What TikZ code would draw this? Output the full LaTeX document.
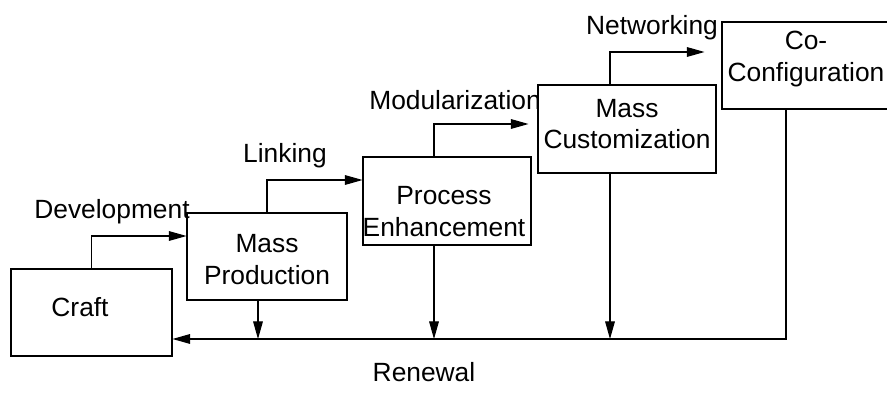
\documentclass[tikz,border=0pt]{standalone}
\usepackage{fontspec}
\setmainfont{Liberation Sans}
\usetikzlibrary{arrows.meta,positioning}
\tikzset{
  stage/.style={draw, line width=0.6pt, inner sep=0pt},
  flow/.style={line width=0.6pt, -{Triangle[length=10pt,width=5.5pt]}},
  lbl/.style={font=\fontsize{15}{18}\selectfont, align=center, inner sep=0pt}
}

\begin{document}
\begin{tikzpicture}[x=0.02cm, y=-0.02cm]
      \useasboundingbox (0, 0) rectangle (887, 405);

      % stages
      \node[stage, minimum width=3.22cm, minimum height=1.74cm,
        label={[lbl, xshift=-0.23cm, yshift=0.11cm]center:Craft}] (craft) at (91.5, 312.5) {};
      \node[stage, minimum width=3.2cm, minimum height=1.74cm,
        label={[lbl, yshift=-0.06cm]center:{Mass\\Production}}] (mprod) at (267, 256.5) {};
      \node[stage, minimum width=3.36cm, minimum height=1.76cm,
        label={[lbl, xshift=-0.06cm, yshift=-0.21cm]center:{Process\\Enhancement}}] (proc) at (447, 201) {};
      \node[stage, minimum width=3.56cm, minimum height=1.76cm,
        label={[lbl, yshift=0.1cm]center:{Mass\\Customization}}] (mcust) at (627, 129) {};
      % right edge runs off the page
      \node[stage, minimum width=3.36cm, minimum height=1.74cm,
        label={[lbl, yshift=0.13cm]center:{Co-\\Configuration}}] (coconf) at (806, 65.5) {};

      % forward steps
      \draw[flow] (craft.north) |- ([yshift=0.41cm]mprod.west);
      \draw[flow] (mprod.north) |- ([yshift=0.42cm]proc.west);
      \draw[flow] ([xshift=-0.26cm]proc.north) |- ([xshift=-0.18cm, yshift=0.1cm]mcust.west);
      \draw[flow] ([xshift=-0.34cm]mcust.north) |- ([xshift=-0.34cm, yshift=0.27cm]coconf.west);

      \node[lbl] (dev) at (112, 212) {Development};
      \node[lbl] (link) at (285, 156) {Linking};
      \node[lbl] (modul) at (455, 100) {Modularization};
      \node[lbl] (netw) at (652, 28) {Networking};

      % renewal loop
      \coordinate (ret) at (0, 339);
      \draw[flow] ([xshift=-0.4cm]coconf.south) |- ([yshift=-0.53cm]craft.east);
      \draw[flow] ([xshift=-0.18cm]mprod.south) -- ([xshift=-0.18cm]mprod.south |- ret);
      \draw[flow] ([xshift=-0.26cm]proc.south) -- ([xshift=-0.26cm]proc.south |- ret);
      \draw[flow] ([xshift=-0.34cm]mcust.south) -- ([xshift=-0.34cm]mcust.south |- ret);

      \node[lbl] (renewal) at (424, 372) {Renewal};
\end{tikzpicture}
\end{document}
